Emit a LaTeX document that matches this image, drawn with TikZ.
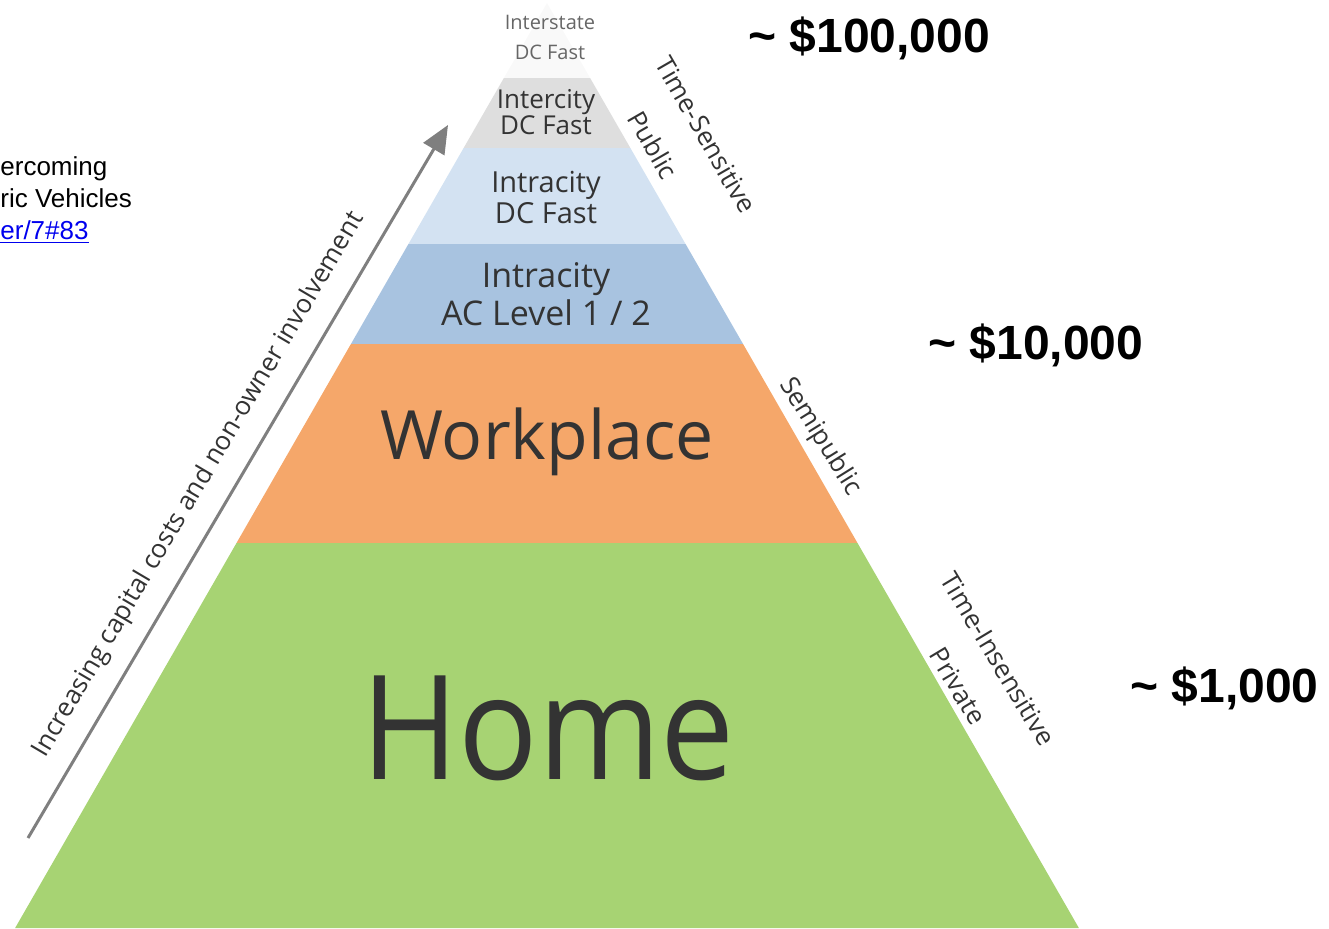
\documentclass[tikz,border=0pt]{standalone}
\usepackage{fontspec}
\setmainfont{Open Sans}
\newfontfamily\arialfont{Liberation Sans}
\usepackage{xcolor}
\usetikzlibrary{arrows.meta,positioning}

\definecolor{tierInterstate}{HTML}{F9F9F9}
\definecolor{tierIntercity}{HTML}{DEDEDE}
\definecolor{tierDCFast}{HTML}{D3E2F2}
\definecolor{tierACLevel}{HTML}{A8C3E0}
\definecolor{tierWork}{HTML}{F5A76A}
\definecolor{tierHome}{HTML}{A7D373}
\definecolor{labelgray}{HTML}{333333}
\definecolor{arrowgray}{HTML}{7F7F7F}
\definecolor{linkblue}{HTML}{0000EE}

\begin{document}
\begin{tikzpicture}[
    x=0.5pt, y=-0.5pt,
    tier/.style={align=center, text=labelgray, inner sep=0pt},
    side/.style={text=labelgray, inner sep=0pt, font=\fontsize{13}{15}\selectfont},
    price/.style={anchor=west, inner sep=0pt, font=\arialfont\bfseries\fontsize{24}{28}\selectfont},
    note/.style={anchor=base west, inner sep=0pt, font=\arialfont\fontsize{13}{16}\selectfont},
    costarrow/.style={-{Triangle[length=14pt, width=12pt]}, line width=1.5pt, draw=arrowgray}
]
\useasboundingbox (0,0) rectangle (1329,928);
\clip (0,0) rectangle (1329,928);

% Pyramid tiers (apex at x=547)
\foreach \ytop/\ybot/\col in {3/78/tierInterstate, 78/148/tierIntercity, 148/244/tierDCFast,
                              244/344/tierACLevel, 344/543/tierWork, 543/928/tierHome} {
    \pgfmathsetmacro\wtop{0.575*(\ytop-3)}
    \pgfmathsetmacro\wbot{0.575*(\ybot-3)}
    \fill[\col] (547-\wtop,\ytop) -- (547+\wtop,\ytop) -- (547+\wbot,\ybot) -- (547-\wbot,\ybot) -- cycle;
}

% Tier labels
\node[tier, text=black!60, font=\fontsize{10}{15}\selectfont] (interstate) at (550,37) {Interstate\\DC Fast};
\node[tier, font=\fontsize{13}{13}\selectfont] (intercity) at (546,112) {Intercity\\DC Fast};
\node[tier, font=\fontsize{14.5}{15.5}\selectfont] (intradc) at (546,197) {Intracity\\DC Fast};
\node[tier, font=\fontsize{17}{19}\selectfont] (intraac) at (546,294) {Intracity\\AC Level 1 / 2};
\node[tier, font=\fontsize{34}{36}\selectfont] (workplace) at (547,442) {Workplace};
\node[tier, font=\fontsize{66}{70}\selectfont, yscale=1.1] (home) at (548,728) {Home};

% Access labels along the right edge
\node[side, rotate=-60] (timesens) at (706,135) {Time-Sensitive};
\node[side, rotate=-60] (public) at (653,145) {Public};
\node[side, rotate=-58] (semipublic) at (820,437) {Semipublic};
\node[side, rotate=-59] (timeinsens) at (998,659) {Time-Insensitive};
\node[side, rotate=-59] (private) at (958,686) {Private};

% Cost arrow on the left edge
\coordinate (costTail) at (28,838);
\coordinate (costHead) at (448,125);
\draw[costarrow] (costTail) -- (costHead);
\node[side, rotate=59.5] (costlabel) at (199,485)
    {Increasing capital costs and non-owner involvement};

% Cost per charger
\node[price] (price1) at (748,38) {\textasciitilde{} \$100,000};
\node[price] (price2) at (928,345) {\textasciitilde{} \$10,000};
\node[price] (price3) at (1130,688) {\textasciitilde{} \$1,000};

% Source note
\node[note] (note1) at (0,175) {ercoming};
\node[note] (note2) at (0,207) {ric Vehicles};
\node[note, text=linkblue] (note3) at (0,239) {\underline{er/7\#83}};

\end{tikzpicture}
\end{document}
